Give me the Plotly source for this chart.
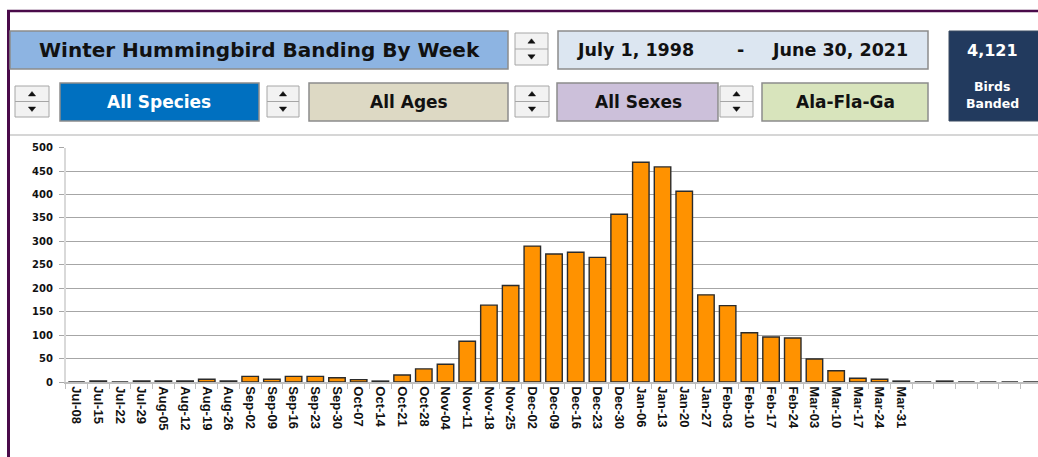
import plotly.graph_objects as go

# ---------------- data ----------------
weeks = ["Jul-08", "Jul-15", "Jul-22", "Jul-29", "Aug-05", "Aug-12", "Aug-19", "Aug-26",
         "Sep-02", "Sep-09", "Sep-16", "Sep-23", "Sep-30", "Oct-07", "Oct-14", "Oct-21",
         "Oct-28", "Nov-04", "Nov-11", "Nov-18", "Nov-25", "Dec-02", "Dec-09", "Dec-16",
         "Dec-23", "Dec-30", "Jan-06", "Jan-13", "Jan-20", "Jan-27", "Feb-03", "Feb-10",
         "Feb-17", "Feb-24", "Mar-03", "Mar-10", "Mar-17", "Mar-24", "Mar-31", "Apr-07",
         "Apr-14", "Apr-21", "Apr-28", "May-05", "May-12"]
birds_banded = [0, 2, 0, 2, 2, 2, 6, 2, 12, 6, 12, 12, 9, 5, 2, 15, 28, 38, 87, 164, 206,
                290, 273, 277, 266, 358, 469, 459, 407, 186, 163, 105, 96, 94, 49, 24, 8,
                6, 2, 0, 2, 0, 0, 0, 0]
tick_labels = weeks[:39] + [""] * 6
y_ticks = [0, 50, 100, 150, 200, 250, 300, 350, 400, 450, 500]

header_title = "Winter Hummingbird Banding By Week"
date_from = "July 1, 1998"
date_to = "June 30, 2021"
species = "All Species"
ages = "All Ages"
sexes = "All Sexes"
region = "Ala-Fla-Ga"
total_banded = "4,121"
total_caption = ["Birds", "Banded"]

# ---------------- layout helpers ----------------
# page body margin is removed (post_script), so coordinates are window pixels
FW, FH = 1038, 457


def X(p):
    return p / FW


def Y(p):
    return 1 - p / FH


shapes = []
annotations = []
HEAD_FONT = "DejaVu Sans"


def box(x0, y0, x1, y1, fill, line="#8C8C8C", lw=1.5):
    shapes.append(dict(type="rect", xref="paper", yref="paper",
                       x0=X(x0), x1=X(x1), y0=Y(y1), y1=Y(y0),
                       fillcolor=fill, line=dict(color=line, width=lw)))


def hline(x0, x1, y, color, lw):
    shapes.append(dict(type="line", xref="paper", yref="paper",
                       x0=X(x0), x1=X(x1), y0=Y(y), y1=Y(y),
                       line=dict(color=color, width=lw)))


def vline(x, y0, y1, color, lw):
    shapes.append(dict(type="line", xref="paper", yref="paper",
                       x0=X(x), x1=X(x), y0=Y(y0), y1=Y(y1),
                       line=dict(color=color, width=lw)))


def text(x, y, s, size, color="#111111", family=HEAD_FONT):
    annotations.append(dict(xref="paper", yref="paper", x=X(x), y=Y(y), text=s,
                            showarrow=False, xanchor="center", yanchor="middle",
                            font=dict(family=family, size=size, color=color, weight="bold")))


def tri(cx, cy, up):
    w, h = 3.6, 2.2
    if up:
        pts = [(cx - w, cy + h), (cx + w, cy + h), (cx, cy - h)]
    else:
        pts = [(cx - w, cy - h), (cx + w, cy - h), (cx, cy + h)]
    path = "M " + " L ".join(f"{X(a):.5f},{Y(b):.5f}" for a, b in pts) + " Z"
    shapes.append(dict(type="path", xref="paper", yref="paper", path=path,
                       fillcolor="#111111", line=dict(color="#111111", width=0.5)))


def spinner(x0, y0, x1, y1):
    box(x0, y0, x1, y1, "#F2F2F2", line="#A6A6A6", lw=1)
    ym = (y0 + y1) / 2
    hline(x0, x1, ym, "#A6A6A6", 1)
    cx = (x0 + x1) / 2
    tri(cx, (y0 + ym) / 2, True)
    tri(cx, (ym + y1) / 2, False)


# outer frame (purple)
hline(7, 1038, 11, "#4A0B4A", 2.5)
vline(8.5, 10, 457, "#4A0B4A", 3)
# separator under header
hline(10, 1038, 135, "#C8C8C8", 1.5)

# row 1
box(10, 31, 508, 69, "#8DB4E2")
text(259, 50, header_title, 20)
spinner(515, 33, 548, 65)
box(558, 31, 928, 69, "#DCE6F1")
text(635, 50, date_from, 17.5)
text(740, 50, "-", 17.5)
text(840, 50, date_to, 17.5)
box(949, 31, 1045, 121, "#223A5E", line="#3A4A60", lw=1)
text(992, 50, total_banded, 16, color="#FFFFFF")
text(992, 86.5, total_caption[0], 12.5, color="#FFFFFF")
text(992, 103, total_caption[1], 12.5, color="#FFFFFF")

# row 2
spinner(15, 86, 49, 117)
box(60, 83, 259, 121, "#0070C0")
text(159, 102, species, 17, color="#FFFFFF")
spinner(267, 86, 299, 117)
box(309, 83, 508, 121, "#DDD9C4")
text(409, 102, ages, 17)
spinner(515, 86, 549, 117)
box(557, 83, 718, 121, "#CCC0DA")
text(638, 102, sexes, 17)
spinner(720, 86, 753, 117)
box(762, 83, 928, 121, "#D8E4BC")
text(845, 102, region, 17)

# ---------------- chart ----------------
fig = go.Figure(go.Bar(
    x=weeks, y=birds_banded, width=0.76,
    marker=dict(color="#FF9200", line=dict(color="#2B2B2B", width=1.4)),
    hoverinfo="x+y",
))

fig.update_layout(
    width=FW, height=FH, autosize=False,
    margin=dict(l=0, r=0, t=0, b=0),
    paper_bgcolor="#FFFFFF", plot_bgcolor="#FFFFFF",
    showlegend=False,
    shapes=shapes, annotations=annotations,
    xaxis=dict(
        domain=[X(65.7), 1], type="category",
        range=[-0.5, 44.3],
        tickmode="array", tickvals=weeks, ticktext=tick_labels,
        tickangle=90, tickson="boundaries",
        ticks="outside", ticklen=5, tickcolor="#BFBFBF", tickwidth=1.2,
        showline=True, linecolor="#BFBFBF", linewidth=1.5,
        showgrid=False, zeroline=False, automargin=False,
        tickfont=dict(family="Liberation Sans", size=13, color="#111111", weight="bold"),
        fixedrange=True,
    ),
    yaxis=dict(
        domain=[Y(382), Y(147.7)],
        range=[0, 500],
        tickmode="array", tickvals=y_ticks,
        ticks="outside", ticklen=5, tickcolor="#A6A6A6", tickwidth=1.2,
        showline=True, linecolor="#D9D9D9", linewidth=1.5,
        showgrid=True, gridcolor="#A6A6A6", gridwidth=1.3,
        zeroline=False, automargin=False,
        tickfont=dict(family=HEAD_FONT, size=10, color="#111111", weight="bold"),
        ticklabelstandoff=4,
        fixedrange=True,
    ),
)

fig.write_html(
    "out.html",
    config={"displayModeBar": False},
    post_script="document.body.style.margin='0px';document.body.style.overflow='hidden';",
)
